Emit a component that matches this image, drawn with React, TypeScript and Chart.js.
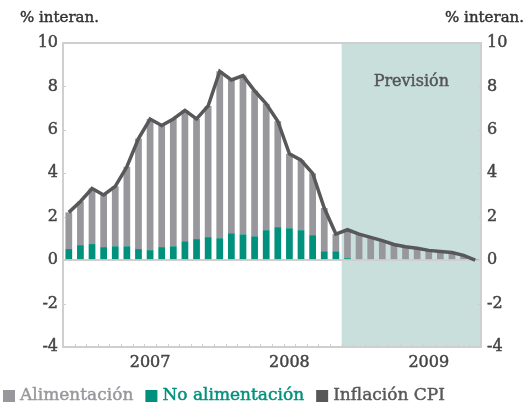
import React, { useEffect, useRef } from "react";
import { Chart, registerables } from "chart.js";

Chart.register(...registerables);

const months = [
  "2006-12",
  "2007-01", "2007-02", "2007-03", "2007-04", "2007-05", "2007-06",
  "2007-07", "2007-08", "2007-09", "2007-10", "2007-11", "2007-12",
  "2008-01", "2008-02", "2008-03", "2008-04", "2008-05", "2008-06",
  "2008-07", "2008-08", "2008-09", "2008-10", "2008-11", "2008-12",
  "2009-01", "2009-02", "2009-03", "2009-04", "2009-05", "2009-06",
  "2009-07", "2009-08", "2009-09", "2009-10", "2009-11",
];

const noAlimentacion = [
  0.51, 0.69, 0.74, 0.6, 0.64, 0.64, 0.51, 0.46, 0.6, 0.64, 0.87, 0.97,
  1.06, 1.01, 1.24, 1.19, 1.1, 1.38, 1.52, 1.47, 1.38, 1.15, 0.41, 0.41,
  0.09, 0, 0, 0, 0, 0, 0, 0, 0, 0, 0, 0,
];

const alimentacion = [
  1.69, 2.01, 2.56, 2.4, 2.76, 3.66, 5.09, 6.04, 5.6, 5.86, 6.03, 5.53,
  6.04, 7.69, 7.06, 7.31, 6.7, 5.82, 4.88, 3.43, 3.22, 2.85, 1.99, 0.79,
  1.31, 1.2, 1.05, 0.9, 0.72, 0.62, 0.55, 0.45, 0.4, 0.35, 0.22, 0.02,
];

const inflacionCPI = [
  2.2, 2.7, 3.3, 3.0, 3.4, 4.3, 5.6, 6.5, 6.2, 6.5, 6.9, 6.5,
  7.1, 8.7, 8.3, 8.5, 7.8, 7.2, 6.4, 4.9, 4.6, 4.0, 2.4, 1.2,
  1.4, 1.2, 1.05, 0.9, 0.72, 0.62, 0.55, 0.45, 0.4, 0.35, 0.22, 0.0,
];

const forecastFrom = "2008-12";
const forecastLabel = "Previsión";
const unitLabel = "% interan.";
const legendNames = ["Alimentación", "No alimentación", "Inflación CPI"];

const GRAY = "#98989c";
const GREEN = "#00907c";
const DARK = "#58585a";
const AXIS = "#cfcfcf";
const SHADE = "#c9dfdc";
const FONT = "'DejaVu Serif', serif";
const legendColors = [GRAY, GREEN, DARK];

function heavyText(ctx: any, text: string, x: number, y: number, color: string) {
  ctx.fillStyle = color;
  ctx.strokeStyle = color;
  ctx.lineWidth = 0.45;
  ctx.fillText(text, x, y);
  ctx.strokeText(text, x, y);
}

const framePlugin = {
  id: "frame",
  beforeDraw(chart: any) {
    const { ctx, chartArea, scales } = chart;
    const x = scales.x;
    const idx = months.indexOf(forecastFrom);
    const x0 = x.getPixelForValue(idx - 0.5);
    ctx.save();
    ctx.fillStyle = SHADE;
    ctx.fillRect(x0, chartArea.top, chartArea.right - x0, chartArea.bottom - chartArea.top);
    ctx.restore();
  },
  afterDatasetsDraw(chart: any) {
    const { ctx, chartArea, scales } = chart;
    const { left, right, top, bottom } = chartArea;
    const x = scales.x;
    const y = scales.y;
    const idx = months.indexOf(forecastFrom);
    const x0 = x.getPixelForValue(idx - 0.5);
    ctx.save();
    ctx.strokeStyle = AXIS;
    ctx.lineWidth = 2;
    ctx.beginPath();
    ctx.moveTo(left - 1, top);
    ctx.lineTo(right + 1, top);
    ctx.stroke();
    ctx.lineWidth = 1;
    ctx.beginPath();
    for (let i = 0; i < months.length - 1; i++) {
      const px = Math.round(x.getPixelForValue(i + 0.5)) + 0.5;
      ctx.moveTo(px, bottom);
      ctx.lineTo(px, bottom - 3);
    }
    for (let v = -4; v <= 10; v += 2) {
      const py = Math.round(y.getPixelForValue(v)) + 0.5;
      ctx.moveTo(left, py);
      ctx.lineTo(left + 3, py);
      ctx.moveTo(right, py);
      ctx.lineTo(right - 3, py);
    }
    ctx.stroke();
    ctx.font = `16px ${FONT}`;
    ctx.textAlign = "center";
    ctx.textBaseline = "middle";
    heavyText(ctx, forecastLabel, (x0 + right) / 2, y.getPixelForValue(8.2), "#555");
    ctx.font = `15px ${FONT}`;
    ctx.textAlign = "left";
    heavyText(ctx, unitLabel, 20, 18, "#333");
    ctx.textAlign = "right";
    heavyText(ctx, unitLabel, 524, 18, "#333");
    ctx.font = `17px ${FONT}`;
    ctx.textAlign = "left";
    ctx.textBaseline = "middle";
    let cx = 3;
    const cy = 396;
    for (let i = 0; i < legendNames.length; i++) {
      ctx.fillStyle = legendColors[i];
      ctx.fillRect(cx, cy - 6, 12, 12);
      cx += 12 + 5;
      heavyText(ctx, legendNames[i], cx, cy, legendColors[i]);
      cx += ctx.measureText(legendNames[i]).width + 12;
    }
    ctx.restore();
  },
};

const tickFont = { family: FONT, size: 16 };

export default function App() {
  const ref = useRef<HTMLCanvasElement | null>(null);

  useEffect(() => {
    if (!ref.current) return;
    const chart = new Chart(ref.current, {
      type: "bar",
      data: {
        labels: months,
        datasets: [
          {
            type: "line",
            label: legendNames[2],
            data: inflacionCPI,
            borderColor: DARK,
            backgroundColor: DARK,
            borderWidth: 3.5,
            pointRadius: 0,
            tension: 0,
            borderJoinStyle: "miter",
          } as any,
          {
            label: legendNames[1],
            data: noAlimentacion,
            backgroundColor: GREEN,
            stack: "s",
            categoryPercentage: 1,
            barPercentage: 0.58,
          },
          {
            label: legendNames[0],
            data: alimentacion,
            backgroundColor: GRAY,
            stack: "s",
            categoryPercentage: 1,
            barPercentage: 0.58,
          },
        ],
      },
      options: {
        animation: false,
        responsive: false,
        maintainAspectRatio: false,
        layout: { padding: { top: 43, left: 0, right: 0, bottom: 28 } },
        plugins: {
          tooltip: { enabled: false },
          legend: { display: false },
        },
        scales: {
          x: {
            stacked: true,
            offset: true,
            grid: { display: false, drawTicks: false },
            border: { display: true, color: AXIS, width: 2 },
            ticks: {
              autoSkip: false,
              maxRotation: 0,
              padding: 6,
              color: "#444",
              textStrokeColor: "#444",
              textStrokeWidth: 0.45,
              font: tickFont,
              callback: (_v: any, i: number) => {
                const m = months[i];
                return m && m.endsWith("-07") ? m.slice(0, 4) : "";
              },
            },
            afterFit: (s: any) => {
              s.height = 28;
            },
          },
          y: {
            stacked: true,
            position: "left",
            min: -4,
            max: 10,
            ticks: {
              stepSize: 2,
              padding: 5,
              color: "#444",
              textStrokeColor: "#444",
              textStrokeWidth: 0.45,
              font: tickFont,
            },
            grid: {
              drawTicks: false,
              color: (c: any) => (c.tick && c.tick.value === 0 ? AXIS : "transparent"),
              lineWidth: 2,
            },
            border: { display: true, color: AXIS, width: 2 },
            afterFit: (s: any) => {
              s.width = 63;
            },
          },
          y2: {
            position: "right",
            min: -4,
            max: 10,
            ticks: {
              stepSize: 2,
              padding: 6,
              color: "#444",
              textStrokeColor: "#444",
              textStrokeWidth: 0.45,
              font: tickFont,
            },
            grid: { display: false, drawTicks: false },
            border: { display: true, color: AXIS, width: 2 },
            afterFit: (s: any) => {
              s.width = 45;
            },
          },
        },
      },
      plugins: [framePlugin],
    });
    return () => chart.destroy();
  }, []);

  return (
    <div style={{ position: "fixed", left: 0, top: 0, width: 526, height: 403, background: "#fff" }}>
      <canvas ref={ref} width={526} height={403} style={{ width: 526, height: 403 }} />
    </div>
  );
}
